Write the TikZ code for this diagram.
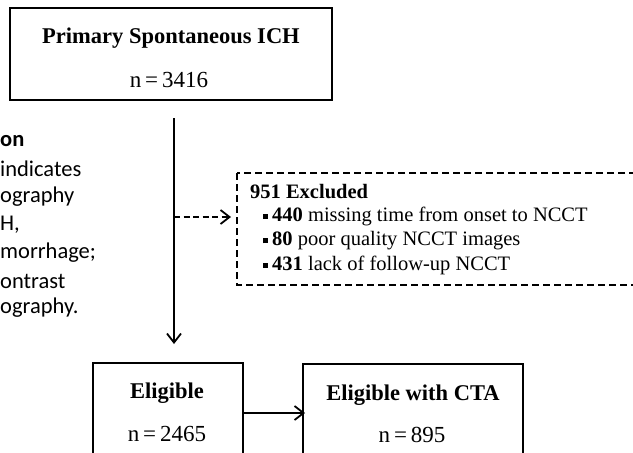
\documentclass[tikz,border=0pt]{standalone}
\usepackage{fontspec}
\setmainfont{Liberation Serif}
\newfontfamily\capfont{Carlito}
\usetikzlibrary{arrows.meta}
\tikzset{
  solidbox/.style={draw, line width=2.6pt},
  dashbox/.style={draw, line width=2.2pt, dash pattern=on 7pt off 4pt},
  conn/.style={line width=1.8pt, -{Straight Barb[length=9pt,width=14pt,line width=1.8pt]}},
  ttl/.style={font=\fontsize{22.5}{26}\selectfont\bfseries, inner sep=0pt},
  num/.style={font=\fontsize{23}{26}\selectfont, inner sep=0pt},
  captxt/.style={font=\capfont\fontsize{22.5}{26}\selectfont, anchor=west, inner sep=0pt},
  exl/.style={font=\fontsize{20.5}{24}\selectfont, anchor=west, inner sep=0pt}
}
\newcommand{\sqb}{\raisebox{2.5pt}{\rule{5pt}{5pt}}\hspace{4pt}}
\begin{document}
\begin{tikzpicture}[x=1pt,y=-1pt]
\useasboundingbox (0,0) rectangle (633,453);
\clip (0,0) rectangle (633,453);
% top box
\draw[solidbox] (10,8) rectangle (332,100);
\node[ttl] (t1) at (171,38) {Primary Spontaneous ICH};
\node[num] (t2) at (169,80) {n\,=\,3416};
\coordinate (topout) at (174,118);
\coordinate (split) at (174,217);
% caption fragments
\node[captxt, font=\capfont\bfseries\fontsize{22.5}{26}\selectfont] (c1) at (0,141) {on};
\node[captxt] (c2) at (0,169) {indicates};
\node[captxt] (c3) at (0,197) {ography};
\node[captxt] (c4) at (0,225) {H,};
\node[captxt] (c5) at (0,253) {morrhage;};
\node[captxt] (c6) at (0,281) {ontrast};
\node[captxt] (c7) at (0,308) {ography.};
% excluded box
\draw[dashbox] (237,173) rectangle (660,285);
\coordinate (exin) at (231,217);
\node[exl] (e1) at (250,192) {\bfseries 951 Excluded};
\node[exl] (e2) at (263,216) {\sqb\textbf{440} missing time from onset to NCCT};
\node[exl] (e3) at (263,241) {\sqb\textbf{80} poor quality NCCT images};
\node[exl] (e4) at (263,265) {\sqb\textbf{431} lack of follow-up NCCT};
% bottom boxes
\draw[solidbox] (93,363) rectangle (243,470);
\node[ttl] (b1) at (167,393) {Eligible};
\node[num] (b2) at (167,434) {n\,=\,2465};
\draw[solidbox] (303,364) rectangle (523,470);
\node[ttl] (d1) at (413,395) {Eligible with CTA};
\node[num] (d2) at (412,435) {n\,=\,895};
\coordinate (elin) at (174,344);
\coordinate (bR) at (243,413);
\coordinate (dL) at (305,413);
% connectors
\draw[conn] (topout) -- (elin);
\draw[conn, dash pattern=on 6pt off 3.5pt] (split) -- (exin);
\draw[conn] (bR) -- (dL);
\end{tikzpicture}
\end{document}
